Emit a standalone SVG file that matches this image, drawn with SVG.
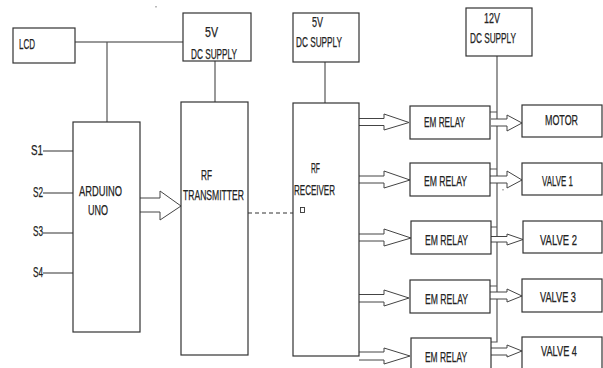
<svg xmlns="http://www.w3.org/2000/svg" width="603" height="368" viewBox="0 0 603 368">
<style>
.box{fill:#fff;stroke:#333;stroke-width:1.2}
.ln{fill:none;stroke:#555;stroke-width:1.2}
.dk{fill:none;stroke:#333;stroke-width:1.2}
.arr{fill:#fff;stroke:#444;stroke-width:1}
.t{font-family:"Liberation Sans",Arial,sans-serif;font-size:14px;fill:#222;stroke:#222;stroke-width:0.25}
</style>
<rect width="603" height="368" fill="#fff"/>
<g id="connectors">
<path class="dk" d="M75,42 H183"/>
<path class="ln" d="M107,42 V122"/>
<path class="ln" d="M215,61 V102"/>
<path class="ln" d="M325,62 V103"/>
<path class="ln" d="M497,56 V342 H490"/>
<path class="ln" d="M490,112 H497 M490,169 H497 M490,227 H497 M490,286 H497"/>
<path class="dk" d="M43,151 H73 M43,193 H73 M43,233 H74 M43,273 H73"/>
<path class="dk" d="M248,213 H293" stroke-dasharray="4 3"/>
<path class="arr" d="M140,198 H160 V191 L181,206 L160,220 V212 H140"/>
<path class="arr" d="M359,118.5 H384 V114 L409,122.5 L384,130 V125.5 H359"/>
<path class="arr" d="M359,176 H384 V171 L410,180 L384,188 V183 H359"/>
<path class="arr" d="M359,234 H384 V229 L411,238 L384,246 V241 H359"/>
<path class="arr" d="M359,294.5 H384 V290 L409,298 L384,306 V302 H359"/>
<path class="arr" d="M359,352 H384 V348 L410,356 L384,364 V360 H359"/>
<path class="arr" d="M491,119 H507 V115 L522,123 L507,131 V126 H491"/>
<path class="arr" d="M490,176 H507 V171 L522,180 L507,188 V183 H490"/>
<path class="arr" d="M491,236.5 H507 V234 L523,239.5 L507,245 V242 H491"/>
<path class="arr" d="M490,292 H507 V289 L522,296 L507,302 V299 H490"/>
<path class="arr" d="M491,348 H507 V345 L522,351 L507,357 V355 H491"/>
</g>
<g id="lcd"><rect class="box" x="13" y="28" width="62" height="35"/><text class="t" x="19" y="49" textLength="16" lengthAdjust="spacingAndGlyphs">LCD</text></g>
<g id="supply5v_1"><rect class="box" x="183" y="13" width="68" height="48"/><text class="t" x="205" y="37" textLength="13" lengthAdjust="spacingAndGlyphs">5V</text><text class="t" x="191" y="59" textLength="46" lengthAdjust="spacingAndGlyphs">DC SUPPLY</text></g>
<g id="supply5v_2"><rect class="box" x="293" y="13" width="66" height="49"/><text class="t" x="312" y="27" textLength="11" lengthAdjust="spacingAndGlyphs">5V</text><text class="t" x="296" y="47" textLength="46" lengthAdjust="spacingAndGlyphs">DC SUPPLY</text></g>
<g id="supply12v"><rect class="box" x="466" y="8" width="66" height="48"/><text class="t" x="484" y="23" textLength="16" lengthAdjust="spacingAndGlyphs">12V</text><text class="t" x="470" y="43" textLength="46" lengthAdjust="spacingAndGlyphs">DC SUPPLY</text></g>
<g id="sensors"><text class="t" x="31" y="155" textLength="12" lengthAdjust="spacingAndGlyphs">S1</text><text class="t" x="33" y="197" textLength="10" lengthAdjust="spacingAndGlyphs">S2</text><text class="t" x="33" y="236" textLength="10" lengthAdjust="spacingAndGlyphs">S3</text><text class="t" x="33" y="277" textLength="10" lengthAdjust="spacingAndGlyphs">S4</text></g>
<g id="arduino"><rect class="box" x="73" y="122" width="67" height="210"/><text class="t" x="79" y="196" textLength="43" lengthAdjust="spacingAndGlyphs">ARDUINO</text><text class="t" x="88" y="215" textLength="20" lengthAdjust="spacingAndGlyphs">UNO</text></g>
<g id="rf_transmitter"><rect class="box" x="181" y="102" width="67" height="253"/><text class="t" x="201" y="180" textLength="11" lengthAdjust="spacingAndGlyphs">RF</text><text class="t" x="183" y="200" textLength="61" lengthAdjust="spacingAndGlyphs">TRANSMITTER</text></g>
<g id="rf_receiver"><rect class="box" x="293" y="103" width="66" height="253"/><text class="t" x="311" y="173" textLength="9" lengthAdjust="spacingAndGlyphs">RF</text><text class="t" x="294" y="195" textLength="41" lengthAdjust="spacingAndGlyphs">RECEIVER</text><rect x="300.5" y="207.5" width="4" height="5" fill="none" stroke="#333" stroke-width="0.9"/></g>
<g id="relay1"><rect class="box" x="410" y="106" width="80" height="33"/><text class="t" x="424" y="127" textLength="41" lengthAdjust="spacingAndGlyphs">EM RELAY</text></g>
<g id="relay2"><rect class="box" x="410" y="163" width="80" height="33"/><text class="t" x="424" y="186" textLength="43" lengthAdjust="spacingAndGlyphs">EM RELAY</text></g>
<g id="relay3"><rect class="box" x="411" y="221" width="80" height="33"/><text class="t" x="425" y="245" textLength="43" lengthAdjust="spacingAndGlyphs">EM RELAY</text></g>
<g id="relay4"><rect class="box" x="410" y="280" width="80" height="33"/><text class="t" x="425" y="304" textLength="43" lengthAdjust="spacingAndGlyphs">EM RELAY</text></g>
<g id="relay5"><rect class="box" x="411" y="338" width="80" height="34"/><text class="t" x="425" y="362" textLength="42" lengthAdjust="spacingAndGlyphs">EM RELAY</text></g>
<g id="motor"><rect class="box" x="522" y="105" width="80" height="32"/><text class="t" x="545" y="125" textLength="33" lengthAdjust="spacingAndGlyphs">MOTOR</text></g>
<g id="valve1"><rect class="box" x="522" y="163" width="80" height="32"/><text class="t" x="542" y="186" textLength="31" lengthAdjust="spacingAndGlyphs">VALVE 1</text></g>
<g id="valve2"><rect class="box" x="523" y="221" width="79" height="32"/><text class="t" x="540" y="245" textLength="37" lengthAdjust="spacingAndGlyphs">VALVE 2</text></g>
<g id="valve3"><rect class="box" x="522" y="279" width="80" height="33"/><text class="t" x="540" y="302" textLength="36" lengthAdjust="spacingAndGlyphs">VALVE 3</text></g>
<g id="valve4"><rect class="box" x="522" y="337" width="80" height="34"/><text class="t" x="541" y="356" textLength="36" lengthAdjust="spacingAndGlyphs">VALVE 4</text></g>
<rect x="155.5" y="6" width="1" height="1.5" fill="#777"/>
<rect x="502.5" y="189" width="1" height="1.5" fill="#777"/>
</svg>
